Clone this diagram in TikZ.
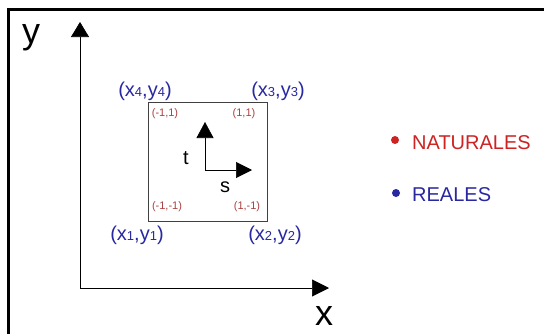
\documentclass[tikz,border=0pt]{standalone}
\usepackage{fontspec}
\setmainfont{Liberation Sans}
\usetikzlibrary{arrows.meta}

\definecolor{realblue}{RGB}{40,40,160}
\definecolor{natred}{RGB}{205,35,35}
\definecolor{cornerred}{RGB}{170,65,65}
\newcommand{\idx}[1]{{\fontsize{13}{13}\selectfont #1}}

\tikzset{
    realpt/.style={inner sep=0pt, text=realblue, font=\fontsize{20}{22}\selectfont},
    natpt/.style={inner sep=0pt, text=cornerred, font=\fontsize{11}{12}\selectfont},
    axlbl/.style={inner sep=0pt},
    dot/.style={circle, inner sep=0pt, minimum size=8pt}
}

\begin{document}
\begin{tikzpicture}[x=1pt, y=-1pt]
    \useasboundingbox (0,0) rectangle (544,333);
    % frame
    \draw[line width=3pt] (8.7,340) -- (8.7,9.7) -- (550,9.7);

    % global axes
    \coordinate (origin) at (80,288);
    \coordinate (ytip) at (80,22);
    \coordinate (xtip) at (329,288);
    \draw[semithick, {Triangle[length=15pt,width=18pt]}-{Triangle[length=17pt,width=17pt]}]
        (ytip) -- (origin) -- (xtip);
    \node[axlbl, font=\fontsize{36}{40}\selectfont] (ylbl) at (31,37.5) {y};
    \node[axlbl, font=\fontsize{36}{40}\selectfont] (xlbl) at (324,315.5) {x};

    % element square
    \draw[black!75, line width=0.9pt] (148,102) rectangle (267,221);
    \node[realpt] (p4) at (145,91) {(x\idx{4},y\idx{4})};
    \node[realpt] (p3) at (278,91) {(x\idx{3},y\idx{3})};
    \node[realpt] (p1) at (137,235) {(x\idx{1},y\idx{1})};
    \node[realpt] (p2) at (275,235) {(x\idx{2},y\idx{2})};
    \node[natpt] (n4) at (165,114) {(-1,1)};
    \node[natpt] (n3) at (244,114) {(1,1)};
    \node[natpt] (n1) at (167,207) {(-1,-1)};
    \node[natpt] (n2) at (247,207) {(1,-1)};

    % local axes s,t
    \coordinate (so) at (205,170);
    \coordinate (ttip) at (205,122);
    \coordinate (stip) at (252,170);
    \draw[semithick, {Triangle[length=16pt,width=17pt]}-{Triangle[length=16pt,width=16pt]}]
        (ttip) -- (so) -- (stip);
    \node[axlbl, font=\fontsize{20}{22}\selectfont] (tlbl) at (186,158) {t};
    \node[axlbl, font=\fontsize{20}{22}\selectfont] (slbl) at (225,187) {s};

    % legend
    \node[dot, fill=natred] (natdot) at (395,140) {};
    \node[dot, fill=realblue] (realdot) at (396,193) {};
    \node[axlbl, anchor=west, text=natred, font=\fontsize{20}{22}\selectfont] (natlbl) at (412,142.5) {NATURALES};
    \node[axlbl, anchor=west, text=realblue, font=\fontsize{20}{22}\selectfont] (reallbl) at (412,194.5) {REALES};
\end{tikzpicture}
\end{document}
